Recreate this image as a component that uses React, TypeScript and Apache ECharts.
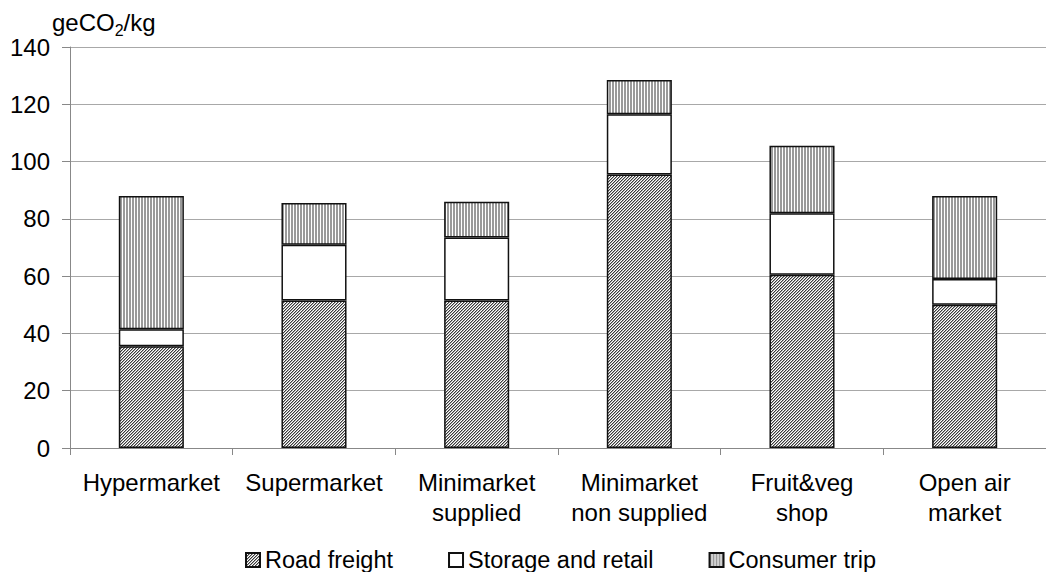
import React, { useEffect, useRef } from "react";
import * as echarts from "echarts";

const categories = [
  "Hypermarket",
  "Supermarket",
  "Minimarket\nsupplied",
  "Minimarket\nnon supplied",
  "Fruit&veg\nshop",
  "Open air\nmarket",
];
const roadFreight = [35.5, 51.5, 51.5, 95.5, 60.5, 50];
const storageRetail = [6, 19.5, 22, 21, 21.5, 9];
const consumerTrip = [46.5, 14.5, 12.5, 12, 23.5, 29];
const seriesNames = ["Road freight", "Storage and retail", "Consumer trip"];

const FONT = "'Liberation Sans', Arial, sans-serif";

function makePattern(kind: "diag" | "vert"): string {
  const c = document.createElement("canvas");
  const size = kind === "diag" ? 6 : 3;
  c.width = size;
  c.height = size;
  const ctx = c.getContext("2d")!;
  for (let x = 0; x < size; x++) {
    for (let y = 0; y < size; y++) {
      let col = "#ffffff";
      if (kind === "diag") {
        const m = (x + y) % 3;
        col = m === 0 ? "#3a3a3a" : m === 1 ? "#a8a8a8" : "#ffffff";
      } else {
        col = x < 2 ? "#9a9a9a" : "#ffffff";
      }
      ctx.fillStyle = col;
      ctx.fillRect(x, y, 1, 1);
    }
  }
  return c.toDataURL();
}

export default function App() {
  const ref = useRef<HTMLDivElement>(null);
  useEffect(() => {
    if (!ref.current) return;
    const chart = echarts.init(ref.current, undefined, { renderer: "svg" });
    const diag = { image: makePattern("diag"), repeat: "repeat" } as any;
    const vert = { image: makePattern("vert"), repeat: "repeat" } as any;
    const border = { borderColor: "#111", borderWidth: 1.5 };
    chart.setOption({
      animation: false,
      textStyle: { fontFamily: FONT },
      grid: { left: 70, right: -14, top: 47, bottom: 124, containLabel: false },
      legend: {
        left: 240,
        top: 543,
        itemWidth: 14,
        itemHeight: 14,
        itemGap: 55,
        icon: "rect",
        textStyle: { fontSize: 23.5, color: "#000", fontFamily: FONT },
        data: seriesNames,
      },
      graphic: [
        {
          type: "text",
          left: 52,
          top: 10,
          style: {
            text: "{a|geCO}{b|2}{a|/kg}",
            rich: {
              a: { fontSize: 24, fontFamily: FONT, fill: "#000", verticalAlign: "bottom" },
              b: { fontSize: 16, fontFamily: FONT, fill: "#000", verticalAlign: "bottom", padding: [0, 0, -4, 0] },
            },
          },
        },
      ],
      xAxis: {
        type: "category",
        data: categories,
        axisLine: { lineStyle: { color: "#888", width: 1 } },
        axisTick: { show: true, length: 7, lineStyle: { color: "#888" } },
        axisLabel: { fontSize: 24, color: "#000", margin: 19, lineHeight: 30, fontFamily: FONT, interval: 0 },
      },
      yAxis: {
        type: "value",
        min: 0,
        max: 140,
        interval: 20,
        axisLine: { show: true, lineStyle: { color: "#888", width: 1 } },
        axisTick: { show: true, length: 8, lineStyle: { color: "#888" } },
        axisLabel: { fontSize: 24, color: "#000", margin: 20, fontFamily: FONT },
        splitLine: { lineStyle: { color: "#a8a8a8", width: 1 } },
      },
      series: [
        {
          name: seriesNames[0],
          type: "bar",
          stack: "total",
          barWidth: "40%",
          data: roadFreight,
          itemStyle: { color: diag, ...border },
        },
        {
          name: seriesNames[1],
          type: "bar",
          stack: "total",
          barWidth: "40%",
          data: storageRetail,
          itemStyle: { color: "#ffffff", ...border },
        },
        {
          name: seriesNames[2],
          type: "bar",
          stack: "total",
          barWidth: "40%",
          data: consumerTrip,
          itemStyle: { color: vert, ...border },
        },
      ],
    });
    return () => chart.dispose();
  }, []);
  return (
    <div
      ref={ref}
      style={{ position: "absolute", left: 0, top: 0, width: 1046, height: 572 }}
    />
  );
}
